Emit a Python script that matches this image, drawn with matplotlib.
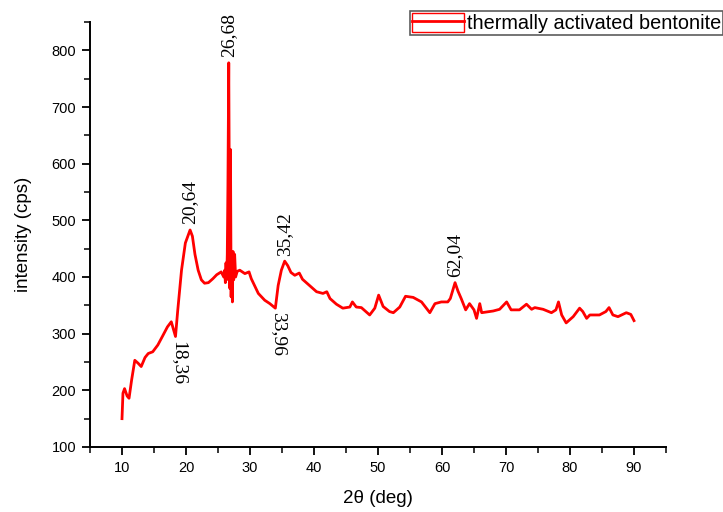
import matplotlib
matplotlib.use("Agg")
import matplotlib.pyplot as plt
from matplotlib.patches import Rectangle
from matplotlib.lines import Line2D
from matplotlib.legend_handler import HandlerTuple
from matplotlib.ticker import MultipleLocator

# ---- data ----
two_theta = [10.0, 10.15, 10.4, 10.8, 11.1, 11.5, 12.0, 12.5, 13.0, 13.6, 14.1, 14.8,
             15.6, 16.4, 17.1, 17.7, 18.36, 18.7, 19.3, 19.9, 20.64, 21.0, 21.4, 21.9,
             22.4, 22.9, 23.5, 24.2, 24.8, 25.5, 25.9, 26.05, 26.15, 26.25, 26.35, 26.45,
             26.55, 26.68, 26.78, 26.85, 26.95, 27.05, 27.15, 27.25, 27.35, 27.45, 27.6,
             27.75, 28.0, 28.4, 29.2, 29.85, 30.2, 31.3, 32.3, 33.1, 33.96, 34.4, 34.9,
             35.42, 35.9, 36.4, 37.0, 37.7, 38.2, 39.3, 40.4, 41.4, 42.0, 42.5, 43.5,
             44.5, 45.6, 46.0, 46.6, 47.4, 48.7, 49.5, 50.1, 50.8, 51.8, 52.4, 53.4,
             54.3, 55.5, 56.8, 58.1, 58.9, 59.9, 60.9, 61.3, 62.04, 62.5, 63.0, 63.7,
             64.3, 65.0, 65.4, 65.9, 66.2, 68.0, 69.0, 70.1, 70.8, 72.1, 73.2, 74.0,
             74.5, 75.8, 77.1, 77.8, 78.2, 78.7, 79.4, 80.5, 81.5, 82.0, 82.6, 83.1,
             84.6, 85.6, 86.1, 86.7, 87.5, 88.8, 89.5, 90.0]
intensity = [150, 195, 203, 190, 186, 218, 253, 248, 242, 258, 265, 268,
             280, 297, 312, 321, 295, 340, 412, 460, 483, 472, 440, 412,
             395, 389, 390, 397, 404, 409, 400, 412, 390, 425, 395, 440,
             560, 778, 520, 380, 625, 365, 430, 356, 445, 395, 440,
             400, 410, 412, 406, 409, 397, 371, 359, 353, 345, 385, 412,
             428, 420, 408, 403, 407, 396, 385, 374, 371, 374, 362, 352,
             345, 347, 356, 347, 346, 333, 345, 368, 348, 339, 337, 347,
             366, 364, 356, 337, 353, 356, 356, 362, 390, 375, 362, 342,
             353, 342, 327, 353, 337, 340, 343, 356, 342, 342, 352, 343,
             346, 343, 337, 342, 356, 333, 319, 330, 345, 339, 327, 333,
             333, 339, 346, 333, 330, 337, 334, 323]

peak_labels = ["26,68", "20,64", "35,42", "62,04"]
peak_x = [26.68, 20.64, 35.42, 62.04]
peak_y = [778, 483, 428, 390]

dip_labels = ["18,36", "33,96"]
dip_x = [18.36, 33.96]
dip_y = [295, 345]

series_name = "thermally activated bentonite"
x_title = "2\u03b8 (deg)"
y_title = "intensity (cps)"

# ---- figure ----
plt.rcParams['font.family'] = ['Liberation Sans', 'DejaVu Sans']
fig = plt.figure(figsize=(7.23, 5.12), dpi=100)
ax = fig.add_axes([90 / 723, 1 - 447 / 512, (666 - 90) / 723, (447 - 22) / 512])

red = "#ff0000"
ax.plot(two_theta, intensity, color=red, lw=2.0, solid_joinstyle='round')

ax.set_xlim(5, 95)
ax.set_ylim(100, 850)
ax.xaxis.set_major_locator(MultipleLocator(10))
ax.xaxis.set_minor_locator(MultipleLocator(5))
ax.yaxis.set_major_locator(MultipleLocator(100))
ax.yaxis.set_minor_locator(MultipleLocator(50))
ax.set_xticks([10, 20, 30, 40, 50, 60, 70, 80, 90])
ax.set_yticks([100, 200, 300, 400, 500, 600, 700, 800])

for s in ['top', 'right']:
    ax.spines[s].set_visible(False)
for s in ['left', 'bottom']:
    ax.spines[s].set_linewidth(1.4)
ax.tick_params(which='major', direction='out', length=6, width=1.3, labelsize=10.5, pad=4)
ax.tick_params(which='minor', direction='out', length=4, width=1.1)

ax.set_xlabel(x_title, fontsize=13.5, labelpad=11)
ax.set_ylabel(y_title, fontsize=13.5, labelpad=14)

serif = ['Liberation Serif', 'DejaVu Serif']
for lab, x, y in zip(peak_labels, peak_x, peak_y):
    ax.annotate(lab, (x, y), xytext=(0, 4), textcoords='offset points',
                rotation=90, ha='center', va='bottom', fontsize=14,
                family=serif)
for lab, x, y in zip(dip_labels, dip_x, dip_y):
    ax.annotate(lab, (x, y), xytext=(2, -3), textcoords='offset points',
                rotation=-90, ha='center', va='top', fontsize=14,
                family=serif)

h_rect = Rectangle((0, 0), 1, 1, facecolor='none', edgecolor=red, lw=1.0)
h_line = Line2D([], [], color=red, lw=2)
leg = fig.legend([(h_rect, h_line)], [series_name],
                 handler_map={tuple: HandlerTuple(ndivide=1, pad=0)},
                 loc='upper left', bbox_to_anchor=(410 / 723, 1 - 11 / 512),
                 fontsize=14.3, frameon=True, fancybox=False,
                 borderpad=0.1, borderaxespad=0, handlelength=2.6,
                 handletextpad=0.15, handleheight=1.1)
leg.get_frame().set_edgecolor('#333333')
leg.get_frame().set_linewidth(1.2)

fig.savefig("out.png", dpi=100)
